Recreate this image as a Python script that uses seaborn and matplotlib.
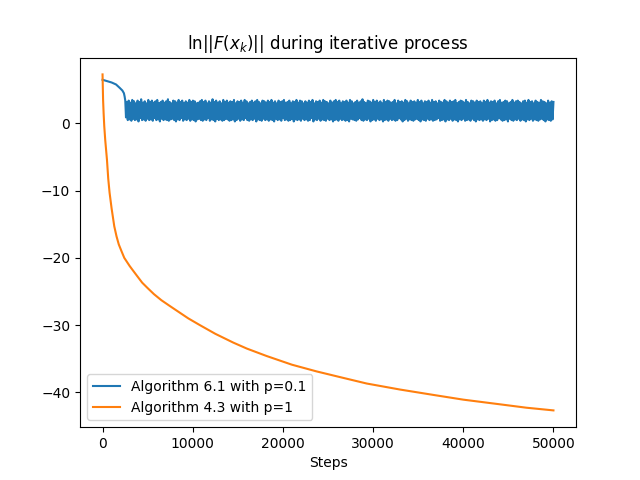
import numpy as np
import pandas as pd
import matplotlib
matplotlib.use("Agg")
import matplotlib.pyplot as plt
import seaborn as sns

# Algorithm 6.1 (p=0.1): smooth start, then oscillating band
blue_start_steps = [0, 500, 1000, 1500, 1900, 2200, 2370, 2450, 2520]
blue_start_vals = [6.5, 6.3, 6.1, 5.8, 5.3, 4.9, 4.5, 4.0, 3.4]

band_low = [
    0.9, 0.5, 0.6, 0.4, 0.7, 0.5, 0.6, 0.3, 0.8, 0.5, 0.6, 0.4, 0.7, 0.5, 0.6, 0.4, 0.8, 0.5, 0.6, 0.3,
    0.7, 0.5, 0.6, 0.5, 0.4, 0.6, 0.7, 0.5, 0.3, 0.6, 0.5, 0.8, 0.4, 0.6, 0.5, 0.7, 0.4, 0.6, 0.5, 0.3,
    0.6, 0.7, 0.5, 0.4, 0.6, 0.5, 0.8, 0.4, 0.6, 0.5, 0.3, 0.7, 0.5, 0.6, 0.4, 0.5, 0.7, 0.6, 0.4, 0.5,
    0.6, 0.3, 0.5, 0.7, 0.4, 0.6, 0.5, 0.8, 0.5, 0.4, 0.6, 0.5, 0.7, 0.3, 0.6, 0.5, 0.4, 0.7, 0.5, 0.6,
    0.4, 0.6, 0.5, 0.3, 0.7, 0.5, 0.6, 0.4, 0.8, 0.5, 0.6, 0.4, 0.5, 0.7, 0.3, 0.6, 0.5, 0.6, 0.4, 0.7,
    0.5, 0.6, 0.4, 0.5, 0.8, 0.3, 0.6, 0.5, 0.7, 0.4, 0.6, 0.5, 0.4, 0.7, 0.5, 0.6, 0.3, 0.5, 0.6, 0.4,
    0.7, 0.5, 0.6, 0.4, 0.5, 0.3, 0.7, 0.6, 0.5, 0.4, 0.6, 0.8, 0.5, 0.4, 0.6, 0.5, 0.7, 0.3, 0.5, 0.6,
    0.4, 0.7, 0.5, 0.6, 0.3, 0.5, 0.6, 0.4, 0.7, 0.5, 0.6, 0.4, 0.5, 0.8, 0.6, 0.3, 0.5, 0.7, 0.4, 0.6,
    0.5, 0.4, 0.6, 0.7, 0.5, 0.3, 0.6, 0.5, 0.4, 0.7, 0.5, 0.6, 0.4, 0.5, 0.6, 0.8, 0.4, 0.5, 0.6, 0.3,
    0.6, 0.5, 0.7, 0.4, 0.6, 0.5, 0.3, 0.6, 0.5, 0.7, 0.4, 0.5, 0.6, 0.4, 0.7, 0.5, 0.3, 0.6, 0.5, 0.6,
    0.4, 0.6, 0.5, 0.7, 0.3, 0.5, 0.6, 0.4, 0.5, 0.8, 0.6, 0.4, 0.5, 0.6, 0.3, 0.7, 0.5, 0.4, 0.6, 0.5,
    0.7, 0.4, 0.6, 0.5, 0.3, 0.6, 0.5, 0.7, 0.4, 0.6, 0.5, 0.4, 0.6, 0.7, 0.5, 0.3, 0.6, 0.5, 0.4, 0.6,
]
band_high = [
    3.2, 3.4, 3.1, 3.5, 3.3, 3.0, 3.4, 3.2, 3.6, 3.1, 3.3, 3.0, 3.5, 3.2, 3.4, 3.1, 3.3, 3.5, 3.0, 3.2,
    3.4, 3.1, 3.3, 3.6, 3.2, 3.0, 3.4, 3.3, 3.1, 3.5, 3.2, 3.4, 3.0, 3.3, 3.1, 3.5, 3.2, 3.4, 3.3, 3.0,
    3.1, 3.3, 3.5, 3.2, 3.4, 3.0, 3.3, 3.1, 3.6, 3.2, 3.4, 3.1, 3.3, 3.0, 3.5, 3.2, 3.4, 3.1, 3.3, 3.2,
    3.5, 3.0, 3.3, 3.2, 3.4, 3.1, 3.5, 3.3, 3.0, 3.2, 3.4, 3.1, 3.3, 3.5, 3.2, 3.0, 3.4, 3.3, 3.1, 3.4,
    3.2, 3.5, 3.1, 3.3, 3.0, 3.4, 3.2, 3.3, 3.5, 3.1, 3.2, 3.4, 3.0, 3.3, 3.2, 3.5, 3.1, 3.4, 3.3, 3.0,
    3.3, 3.1, 3.4, 3.2, 3.5, 3.0, 3.3, 3.2, 3.4, 3.1, 3.5, 3.3, 3.2, 3.0, 3.4, 3.1, 3.3, 3.5, 3.2, 3.4,
    3.0, 3.3, 3.2, 3.4, 3.1, 3.5, 3.3, 3.0, 3.2, 3.4, 3.1, 3.3, 3.6, 3.2, 3.0, 3.4, 3.3, 3.1, 3.5, 3.2,
    3.4, 3.1, 3.3, 3.0, 3.5, 3.2, 3.4, 3.3, 3.1, 3.2, 3.5, 3.0, 3.4, 3.2, 3.3, 3.1, 3.5, 3.3, 3.0, 3.4,
    3.2, 3.3, 3.1, 3.5, 3.2, 3.4, 3.0, 3.3, 3.2, 3.4, 3.1, 3.5, 3.2, 3.3, 3.0, 3.4, 3.2, 3.1, 3.5, 3.3,
    3.1, 3.4, 3.2, 3.3, 3.5, 3.0, 3.2, 3.4, 3.3, 3.1, 3.5, 3.2, 3.0, 3.4, 3.3, 3.1, 3.4, 3.2, 3.3, 3.0,
    3.4, 3.2, 3.5, 3.1, 3.3, 3.2, 3.4, 3.0, 3.3, 3.5, 3.1, 3.2, 3.4, 3.3, 3.0, 3.2, 3.5, 3.1, 3.3, 3.4,
    3.2, 3.0, 3.3, 3.4, 3.1, 3.5, 3.2, 3.3, 3.0, 3.4, 3.2, 3.1, 3.5, 3.3, 3.2, 3.0, 3.4, 3.1, 3.3, 3.2,
]
band_start, band_end = 2600, 50000

# Algorithm 4.3 (p=1)
orange_steps = [0, 20, 60, 120, 190, 300, 490, 630, 780, 1000, 1300, 1550, 1800,
                2100, 2410, 3000, 3330, 3890, 4400, 5000, 5700, 6520, 7500, 8500,
                9500, 10780, 12500, 14480, 16000, 18180, 21000, 23740, 26500,
                29290, 33000, 36700, 40000, 44100, 47000, 50000]
orange_vals = [7.3, 6.0, 3.5, 1.5, -0.4, -2.5, -5.4, -8.2, -10.3, -12.6, -15.3,
               -16.8, -18.0, -19.0, -20.0, -21.2, -21.8, -22.8, -23.7, -24.5,
               -25.4, -26.3, -27.2, -28.1, -29.0, -30.0, -31.3, -32.6, -33.5,
               -34.6, -35.9, -36.9, -37.8, -38.7, -39.6, -40.4, -41.1, -41.8,
               -42.3, -42.7]

band_vals = [v for pair in zip(band_low, band_high) for v in pair]
blue_steps = blue_start_steps + list(np.linspace(band_start, band_end, len(band_vals)))
blue = pd.DataFrame({"step": blue_steps, "val": blue_start_vals + band_vals})
orange = pd.DataFrame({"step": orange_steps, "val": orange_vals})

fig, ax = plt.subplots(figsize=(6.4, 4.8), dpi=100)

sns.lineplot(data=blue, x="step", y="val", estimator=None, sort=False,
             color="#1f77b4", linewidth=1.5, label="Algorithm 6.1 with p=0.1", ax=ax)
sns.lineplot(data=orange, x="step", y="val", estimator=None, sort=False,
             color="#ff7f0e", linewidth=1.5, label="Algorithm 4.3 with p=1", ax=ax)

ax.set_title(r"$\ln||F(x_k)||$ during iterative process")
ax.set_xlabel("Steps")
ax.set_ylabel("")
ax.legend(loc="lower left")

fig.savefig("out.png", dpi=100)
